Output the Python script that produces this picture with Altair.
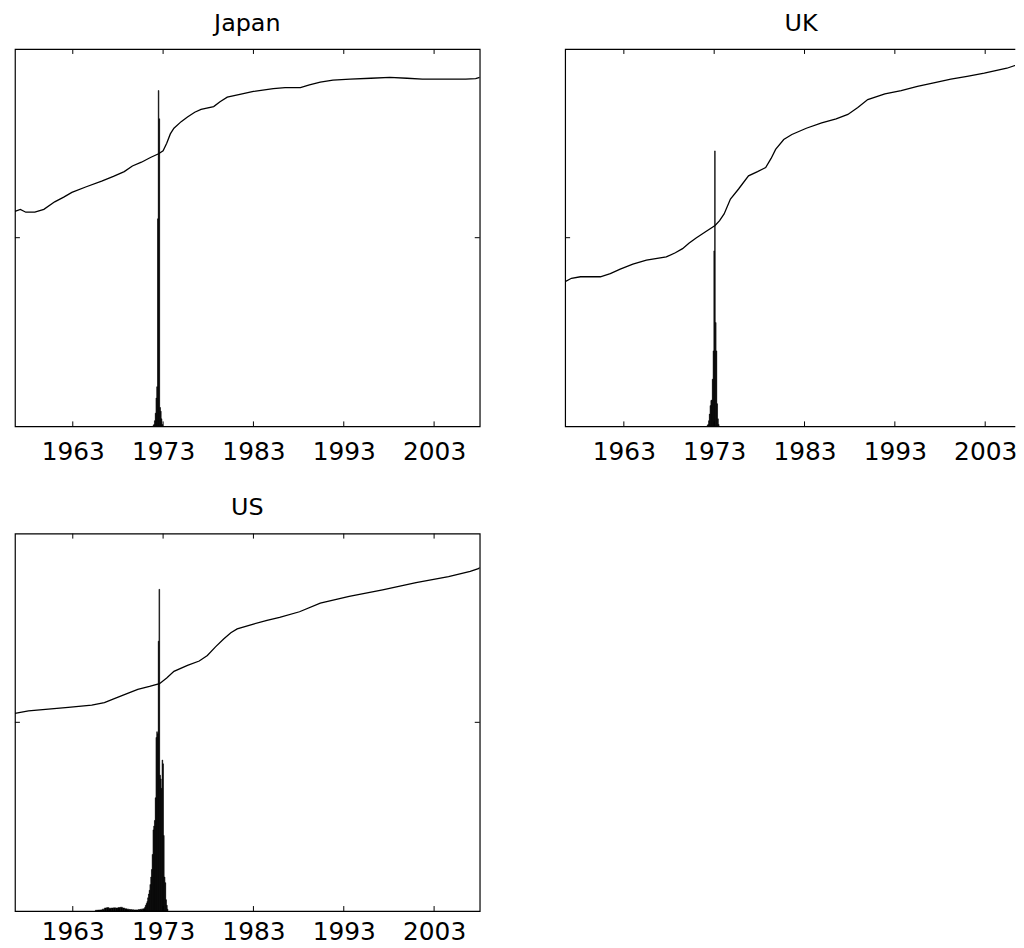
import altair as alt
import pandas as pd

# ---------------- data ----------------
tick_years = [1963, 1973, 1983, 1993, 2003]
y_tick_vals = [1]
y_domain = [0, 2]
month = 1.0 / 12.0

# Japan
jp_line_years = [1956.6, 1957.2, 1957.8, 1958.8, 1959.8, 1961.0, 1962.0, 1962.9, 1964.5, 1966.2,
                 1967.5, 1968.7, 1969.6, 1970.6, 1971.6, 1972.5, 1973.0, 1973.4, 1973.8, 1974.2,
                 1975.0, 1975.7, 1976.5, 1977.2, 1978.6, 1979.3, 1980.1, 1981.5, 1983.0, 1985.2,
                 1986.5, 1988.2, 1989.2, 1990.4, 1991.8, 1993.7, 1996.0, 1998.1, 2000.0, 2001.7,
                 2004.0, 2006.5, 2007.6, 2008.05]
jp_line_vals = [1.14, 1.15, 1.135, 1.135, 1.15, 1.19, 1.215, 1.24, 1.27, 1.30,
                1.325, 1.35, 1.38, 1.40, 1.425, 1.445, 1.46, 1.50, 1.55, 1.58,
                1.615, 1.64, 1.665, 1.68, 1.695, 1.72, 1.745, 1.76, 1.775, 1.79,
                1.795, 1.795, 1.81, 1.825, 1.835, 1.84, 1.845, 1.85, 1.845, 1.84,
                1.84, 1.84, 1.843, 1.85]
jp_hist_years = [1971.92, 1972.00, 1972.08, 1972.17, 1972.25, 1972.33, 1972.42, 1972.50,
                 1972.58, 1972.67, 1972.75, 1972.83, 1972.92]
jp_hist_vals = [0.005, 0.01, 0.03, 0.07, 0.15, 0.21, 1.10, 1.78, 1.63, 0.10, 0.08, 0.04, 0.01]

# UK
uk_line_years = [1956.5, 1957.2, 1958.2, 1960.4, 1961.5, 1962.6, 1964.0, 1965.5, 1967.7, 1968.7,
                 1969.5, 1970.2, 1971.0, 1972.0, 1973.1, 1973.6, 1974.1, 1974.8, 1975.7, 1976.8,
                 1977.8, 1978.7, 1979.3, 1979.8, 1980.7, 1981.6, 1983.2, 1984.9, 1986.5, 1987.8,
                 1988.9, 1990.0, 1991.9, 1993.7, 1995.5, 1997.3, 1999.2, 2001.0, 2002.9, 2005.4,
                 2007.0, 2008.05]
uk_line_vals = [0.767, 0.785, 0.793, 0.793, 0.81, 0.833, 0.86, 0.881, 0.898, 0.92,
                0.942, 0.97, 0.998, 1.03, 1.065, 1.09, 1.126, 1.205, 1.258, 1.328,
                1.35, 1.372, 1.42, 1.468, 1.52, 1.547, 1.58, 1.609, 1.63, 1.653,
                1.69, 1.732, 1.762, 1.78, 1.802, 1.82, 1.84, 1.855, 1.872, 1.898,
                1.924, 1.95]
uk_hist_years = [1972.25, 1972.33, 1972.42, 1972.50, 1972.58, 1972.67, 1972.75, 1972.83,
                 1972.92, 1973.00, 1973.08, 1973.17, 1973.25, 1973.33, 1973.42, 1973.50]
uk_hist_vals = [0.005, 0.01, 0.03, 0.065, 0.11, 0.137, 0.14, 0.25,
                0.40, 0.93, 1.46, 0.55, 0.40, 0.12, 0.04, 0.01]

# US
us_line_years = [1956.6, 1958.1, 1960.3, 1962.5, 1965.1, 1966.5, 1967.6, 1969.0, 1970.2, 1971.5,
                 1972.6, 1973.4, 1974.2, 1975.7, 1977.0, 1977.9, 1978.8, 1979.7, 1980.5, 1981.2,
                 1983.0, 1984.5, 1985.9, 1988.1, 1990.4, 1993.6, 1997.3, 2001.0, 2004.6, 2007.0,
                 2007.9, 2008.05]
us_line_vals = [1.047, 1.061, 1.07, 1.079, 1.091, 1.105, 1.126, 1.152, 1.175, 1.19,
                1.205, 1.235, 1.27, 1.302, 1.325, 1.354, 1.40, 1.442, 1.475, 1.495,
                1.521, 1.54, 1.556, 1.586, 1.632, 1.667, 1.702, 1.74, 1.772, 1.80,
                1.814, 1.82]
us_hist_years = [1970.92, 1971.00, 1971.08, 1971.17, 1971.25, 1971.33, 1971.42, 1971.50,
                 1971.58, 1971.67, 1971.75, 1971.83, 1971.92, 1972.00, 1972.08, 1972.17,
                 1972.25, 1972.33, 1972.42, 1972.50, 1972.58, 1972.67, 1972.75, 1972.83,
                 1972.92, 1973.00, 1973.08, 1973.17, 1973.25, 1973.33, 1973.42, 1973.50]
us_hist_vals = [0.01, 0.02, 0.03, 0.04, 0.05, 0.07, 0.09, 0.11,
                0.14, 0.18, 0.22, 0.30, 0.43, 0.45, 0.48, 0.60,
                0.92, 0.95, 0.94, 1.43, 1.705, 0.72, 0.70, 0.65,
                0.80, 0.78, 0.40, 0.18, 0.15, 0.06, 0.03, 0.01]
# low, wide bump before the main US peak (quarterly)
us_low_years = [1965.625, 1965.875, 1966.125, 1966.375, 1966.625, 1966.875, 1967.125, 1967.375,
                1967.625, 1967.875, 1968.125, 1968.375, 1968.625, 1968.875, 1969.125, 1969.375,
                1969.625, 1969.875, 1970.125, 1970.375, 1970.625, 1970.875]
us_low_vals = [0.004, 0.005, 0.006, 0.010, 0.016, 0.018, 0.015, 0.016,
               0.017, 0.016, 0.018, 0.020, 0.016, 0.012, 0.010, 0.008,
               0.007, 0.006, 0.006, 0.008, 0.010, 0.012]

# ---------------- layout / style ----------------
W, H = 468, 380
W_UK = 453                      # right part of the UK panel runs off the page, as in the source
PX_PER_YEAR = W / (2008.05 - 1956.6)
FONT = "DejaVu Sans"
TICK = 5

ys = alt.Scale(domain=y_domain, nice=False, zero=False)


def hist_df(years, vals, width):
    return pd.DataFrame({
        "x0": [y - width / 2 for y in years],
        "x1": [y + width / 2 for y in years],
        "h": vals,
    })


def panel(title, x_start, width, line_years, line_vals, hists, right_side=True, title_dx=0,
          label_pad=13):
    xs = alt.Scale(domain=[x_start, x_start + width / PX_PER_YEAR], nice=False, zero=False)
    line_df = pd.DataFrame({"year": line_years, "v": line_vals})
    xt = pd.DataFrame({"year": tick_years})
    yt = pd.DataFrame({"v": y_tick_vals})

    layers = []
    for df in hists:
        layers.append(
            alt.Chart(df).mark_rect(color="black", stroke="black", strokeWidth=0.5, clip=True).encode(
                x=alt.X("x0:Q", scale=xs, axis=alt.Axis(
                    values=tick_years, format="d", ticks=False, domain=False, grid=False,
                    labelFont=FONT, labelFontSize=25, labelColor="black", labelPadding=label_pad,
                    labelFlush=False, title=None)),
                x2="x1:Q",
                y=alt.Y("h:Q", scale=ys, axis=None),
                y2=alt.datum(0),
            )
        )
    layers.append(
        alt.Chart(line_df).mark_line(color="black", strokeWidth=1.3, clip=True).encode(
            x=alt.X("year:Q", scale=xs),
            y=alt.Y("v:Q", scale=ys),
        )
    )
    # inward tick marks (bottom, top, left, right)
    layers.append(alt.Chart(xt).mark_rule(color="black", strokeWidth=1).encode(
        x=alt.X("year:Q", scale=xs), y=alt.value(H), y2=alt.value(H - TICK)))
    layers.append(alt.Chart(xt).mark_rule(color="black", strokeWidth=1).encode(
        x=alt.X("year:Q", scale=xs), y=alt.value(0), y2=alt.value(TICK)))
    layers.append(alt.Chart(yt).mark_rule(color="black", strokeWidth=1).encode(
        y=alt.Y("v:Q", scale=ys), x=alt.value(0), x2=alt.value(TICK)))
    if right_side:
        layers.append(alt.Chart(yt).mark_rule(color="black", strokeWidth=1).encode(
            y=alt.Y("v:Q", scale=ys), x=alt.value(width - TICK), x2=alt.value(width)))

    if right_side:
        view = alt.ViewBackground(stroke="black", strokeWidth=1.2, fill="white")
    else:
        # frame drawn on top, bottom and left only (right edge is off the page)
        view = alt.ViewBackground(stroke="black", strokeWidth=1.2, fill="white",
                                  strokeDash=[width, H, width + H, 0])

    return alt.layer(*layers).properties(
        width=width, height=H, view=view,
        title=alt.TitleParams(title, font=FONT, fontSize=24, fontWeight="normal",
                              color="black", anchor="middle", offset=13, dx=title_dx),
    )


jp = panel("Japan", 1956.6, W, jp_line_years, jp_line_vals,
           [hist_df(jp_hist_years, jp_hist_vals, month)])
uk = panel("UK", 1956.5, W_UK, uk_line_years, uk_line_vals,
           [hist_df(uk_hist_years, uk_hist_vals, month)], right_side=False, title_dx=11)
us = panel("US", 1956.6, W, us_line_years, us_line_vals,
           [hist_df(us_low_years, us_low_vals, 0.25), hist_df(us_hist_years, us_hist_vals, month)],
           label_pad=9)

chart = alt.vconcat(
    alt.hconcat(jp, uk, spacing=82),
    us,
    spacing=30,
).properties(
    background="white",
    padding={"left": 5, "top": -1, "right": -2, "bottom": 5},
)

chart.save("out.html", embed_options={"renderer": "svg", "actions": False})
